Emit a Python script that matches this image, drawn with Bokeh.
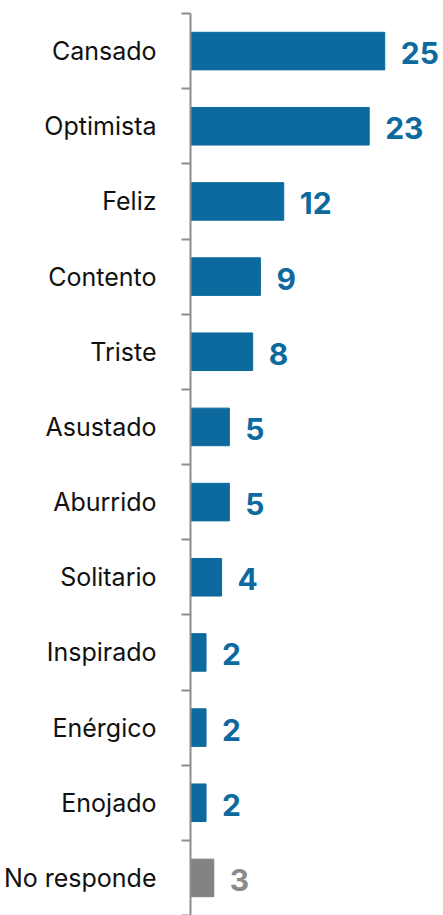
from bokeh.plotting import figure
from bokeh.models import Range1d, FixedTicker, ColumnDataSource
from bokeh.embed import file_html
from bokeh.resources import INLINE
from bokeh.core.properties import value

categories = ["Cansado", "Optimista", "Feliz", "Contento", "Triste", "Asustado",
              "Aburrido", "Solitario", "Inspirado", "Enérgico", "Enojado", "No responde"]
values = [25, 23, 12, 9, 8, 5, 5, 4, 2, 2, 2, 3]
colors = ["#0d6a9e"] * 11 + ["#838383"]
label_colors = ["#0d6a9e"] * 11 + ["#8a8a8a"]

n = len(categories)
centers = [i + 0.5 for i in range(n)]
boundaries = list(range(n + 1))

src = ColumnDataSource(dict(cat=categories, val=values, y=centers,
                            color=colors, lcolor=label_colors,
                            txt=[str(v) for v in values]))

p = figure(width=443, height=915, output_backend="svg", toolbar_location=None,
           x_range=Range1d(0, 32.56), y_range=Range1d(n, 0),
           x_axis_location=None, min_border_left=189, min_border_right=0,
           min_border_top=13, min_border_bottom=0)
p.outline_line_color = None
p.xgrid.visible = False
p.ygrid.visible = False

p.hbar(y="y", left=0, right="val", height=0.5, color="color", source=src)
p.text(x="val", y="y", text="txt", text_color="lcolor", source=src,
       x_offset=16, y_offset=2, text_baseline="middle", text_align="left",
       text_font=value("Inter"), text_font_size="30px", text_font_style="bold")

ax = p.yaxis[0]
ax.ticker = FixedTicker(ticks=centers, minor_ticks=boundaries)
ax.major_label_overrides = {c: name for c, name in zip(centers, categories)}
ax.major_tick_out = 0
ax.major_tick_in = 0
ax.minor_tick_out = 9
ax.minor_tick_in = 0
ax.minor_tick_line_color = "#8c8c8c"
ax.minor_tick_line_width = 2
ax.axis_line_color = "#8c8c8c"
ax.axis_line_width = 2
ax.major_label_standoff = 25
ax.major_label_text_font = "Inter"
ax.major_label_text_font_size = "25px"
ax.major_label_text_color = "#111111"

open("out.html", "w").write(file_html(p, INLINE))
